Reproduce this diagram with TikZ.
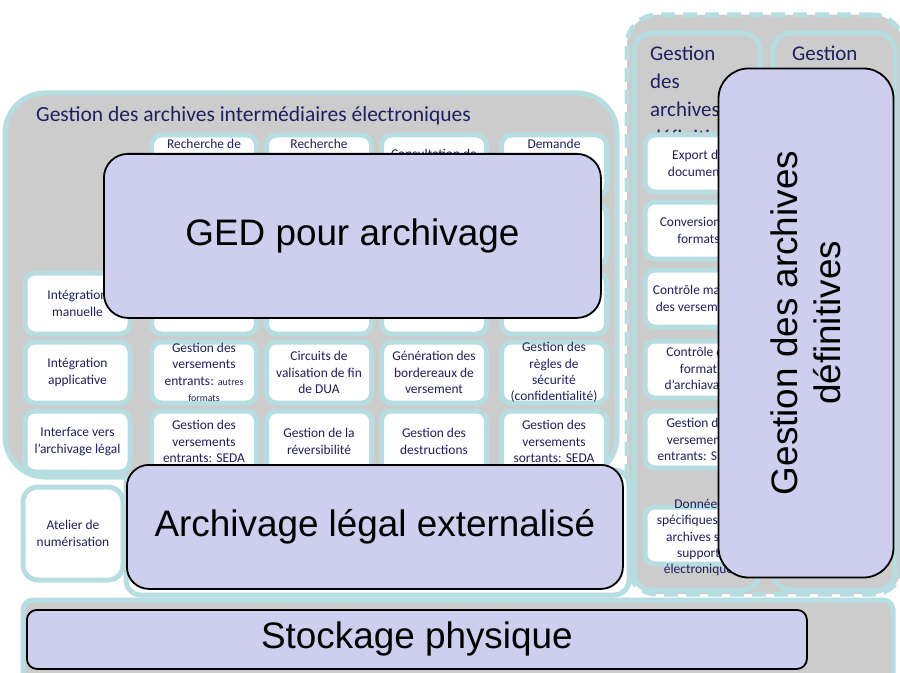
\documentclass[tikz,border=0pt]{standalone}
\usepackage{fontspec}
\usepackage{tikz}
\usetikzlibrary{positioning}
\newfontfamily\calibrifont{Carlito}
\newfontfamily\arialfont{Liberation Sans}
\definecolor{ZoneGrey}{HTML}{CCCCCC}
\definecolor{ZoneTeal}{HTML}{B6DEE0}
\definecolor{BlocLavender}{HTML}{CECEEE}
\definecolor{CellNavy}{HTML}{1F2060}

\begin{document}
\begin{tikzpicture}[x=1bp, y=-1bp,
  zone/.style={draw=ZoneTeal, line width=5bp, fill=ZoneGrey, anchor=north west, inner sep=0pt},
  cell/.style={draw=ZoneTeal, line width=5bp, fill=white, rounded corners=10bp, anchor=north west,
               inner sep=1bp, minimum width=105bp, minimum height=61bp, align=center,
               text=CellNavy, font=\calibrifont\fontsize{13.5}{16.5}\selectfont},
  celltext/.style={inner sep=0pt, align=center, text=CellNavy,
                   font=\calibrifont\fontsize{13.5}{16.5}\selectfont},
  toptext/.style={celltext, anchor=north, yshift=-6bp},
  zonetitle/.style={inner sep=0pt, align=left, text=CellNavy, font=\calibrifont\fontsize{21}{28}\selectfont},
  bloc/.style={draw=black, line width=1.8bp, fill=BlocLavender, align=center, inner sep=0pt,
               font=\arialfont\fontsize{37}{43}\selectfont}]
\useasboundingbox (0,0) rectangle (900,673);
\clip (0,0) rectangle (900,673);

% archives definitives
\node[zone, dash pattern=on 14bp off 8bp, rounded corners=30bp, minimum width=276bp, minimum height=579bp] (defzone) at (624.5,12.5) {};
\node[zone, rounded corners=18bp, minimum width=126bp, minimum height=557bp] (defleft) at (631.5,30.5) {};
\node[zone, rounded corners=18bp, minimum width=122bp, minimum height=557bp] (defright) at (770.5,30.5) {};
\node[zonetitle, anchor=north west] (deftitle) at (650,46) {Gestion\\des\\archives\\définitives};
\node[zonetitle, anchor=north west] (deftitleb) at (792,46) {Gestion};

\node[cell, minimum width=107bp, minimum height=57bp] (export) at (642.5,132.5) {Export de\\documents};
\node[cell, minimum width=107bp, minimum height=57bp] (conversion) at (642.5,199.5) {Conversion de\\formats};
\node[cell, minimum width=107bp, minimum height=57bp] (controle) at (642.5,267.5) {Contrôle manuel\\des versements};
\node[cell, minimum width=107bp, minimum height=57bp] (format) at (642.5,338.5) {Contrôle du\\format\\d’archiavage};
\node[cell, minimum width=107bp, minimum height=57bp] (sedadef) at (642.5,408.5) {Gestion des\\versements\\entrants: SEDA};
\node[cell, minimum width=107bp, minimum height=57bp,
      label={[celltext, yshift=-2bp]center:Données\\spécifiques aux\\archives sur\\support\\électronique}] (donnees) at (642.5,504.5) {};

\node[bloc, rotate=90, rounded corners=30bp, minimum width=509bp, minimum height=175bp] (definitives) at (806,323) {Gestion des archives\\définitives};

% archives intermediaires
\node[zone, fill=white, rounded corners=15bp, minimum width=503bp, minimum height=125bp] (legzone) at (123.5,467.5) {};
\node[zone, rounded corners=40bp, minimum width=612bp, minimum height=384bp] (elec) at (2.5,90.5) {};
\node[zonetitle, anchor=base west, font=\calibrifont\fontsize{21.6}{28}\selectfont] (electitle) at (36,122) {Gestion des archives intermédiaires électroniques};

\node[cell, label={[toptext]north:Recherche de}] (c11) at (149,132.5) {};
\node[cell, label={[toptext]north:Recherche}] (c12) at (264,132.5) {};
\node[cell, label={[toptext, yshift=-10bp]north:Consultation de}] (c13) at (379,132.5) {};
\node[cell, label={[toptext]north:Demande}] (c14) at (499,132.5) {};
\foreach \r in {2,3}
  \foreach \c in {1,...,4}
    \node[cell] (c\r\c) at ({149+115*(\c-1)+(\c==4)*5},{132.5+69*(\r-1)}) {};

\node[cell] (c30) at (22.5,270.5) {Intégration\\manuelle};
\node[cell] (c40) at (22.5,339.5) {Intégration\\applicative};
\node[cell, label={[celltext]center:Gestion des\\versements\\entrants: {\fontsize{10}{12}\selectfont autres}\\{\fontsize{10}{12}\selectfont formats}}] (c41) at (149,339.5) {};
\node[cell] (c42) at (264,339.5) {Circuits de\\valisation de fin\\de DUA};
\node[cell] (c43) at (379,339.5) {Génération des\\bordereaux de\\versement};
\node[cell, label={[celltext]center:Gestion des\\règles de\\sécurité\\(confidentialité)}] (c44) at (499,339.5) {};
\node[cell] (c50) at (22.5,408.5) {Interface vers\\l’archivage légal};
\node[cell] (c51) at (149,408.5) {Gestion des\\versements\\entrants: SEDA};
\node[cell] (c52) at (264,408.5) {Gestion de la\\réversibilité};
\node[cell] (c53) at (379,408.5) {Gestion des\\destructions};
\node[cell] (c54) at (499,408.5) {Gestion des\\versements\\sortants: SEDA};

\node[bloc, rounded corners=24bp, minimum width=497bp, minimum height=164bp, anchor=north west] (ged) at (103,153) {GED pour archivage};

% numerisation, archivage legal
\node[cell, rounded corners=15bp, minimum width=100bp, minimum height=93bp] (atelier) at (20.5,484.5) {Atelier de\\numérisation};
\node[bloc, rounded corners=22bp, minimum width=496bp, minimum height=124bp, anchor=north west] (legal) at (126,464) {Archivage légal externalisé};

% stockage
\node[zone, rounded corners=10bp, minimum width=870bp, minimum height=95bp] (stockzone) at (20.5,597.5) {};
\node[bloc, rounded corners=10bp, minimum width=780bp, minimum height=59bp, anchor=north west] (stockage) at (26,609) {Stockage physique};
\end{tikzpicture}
\end{document}
